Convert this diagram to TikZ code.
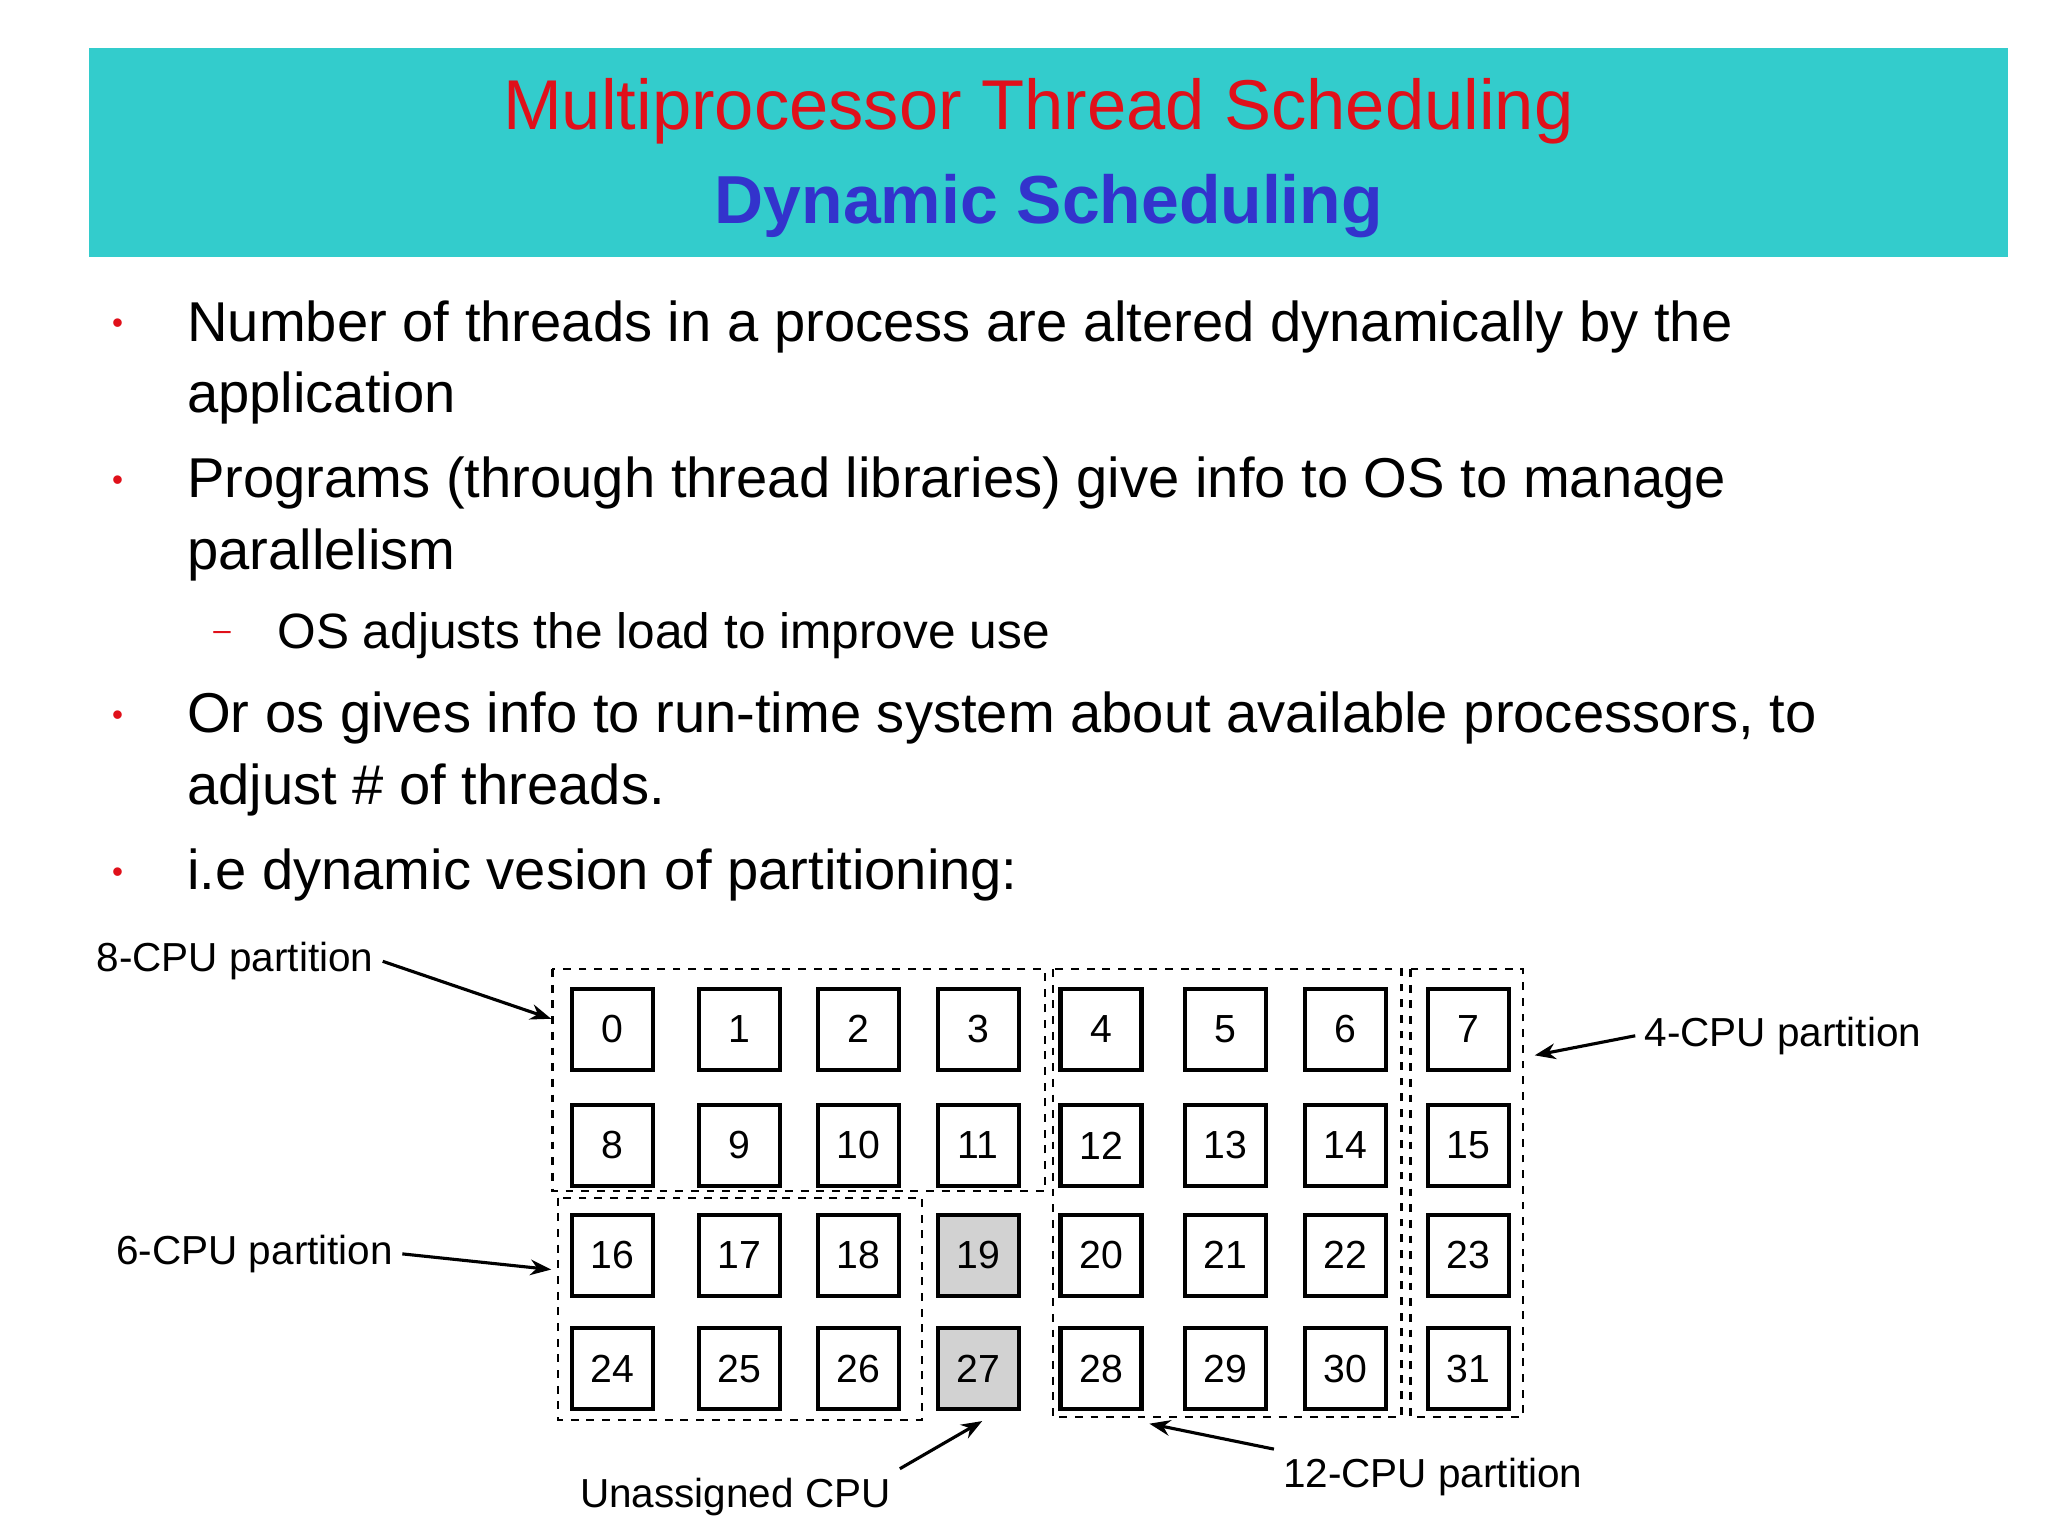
\documentclass[tikz,border=0pt]{standalone}
\usepackage{fontspec}
\setmainfont{Liberation Sans}
\usetikzlibrary{arrows.meta}
\definecolor{band}{HTML}{33CCCC}
\definecolor{ttlred}{HTML}{E0101A}
\definecolor{ttlblue}{HTML}{3333CC}
\begin{document}
\begin{tikzpicture}[x=0.5pt,y=-0.5pt,
  cell/.style={draw,line width=1.6pt,minimum size=31pt,inner sep=0pt,font=\fontsize{15}{15}\selectfont},
  part/.style={draw,dashed,line width=0.9pt},
  lbl/.style={font=\fontsize{15.5}{15}\selectfont},
  arr/.style={-{Stealth[length=8pt,width=6pt]},line width=1.2pt},
  body/.style={anchor=west,inner sep=0pt,font=\fontsize{21.5}{21}\selectfont},
  dot/.style={text=ttlred,font=\fontsize{12}{12}\selectfont}]
\useasboundingbox (0,0) rectangle (1568,1176);
\fill[white] (0,0) rectangle (1568,1176);
\fill[band] (68,37) rectangle (1537,197);
\node[text=ttlred,font=\fontsize{27}{27}\selectfont] (t1) at (795,85) {Multiprocessor Thread Scheduling};
\node[text=ttlblue,font=\bfseries\fontsize{26}{26}\selectfont] (t2) at (803,158) {Dynamic Scheduling};
\foreach \y/\n in {250/b1,370/b2,550/b3,670/b4}{\node[dot] (\n) at (90,\y) {•};}
\node[body] (l1) at (143,250) {Number of threads in a process are altered dynamically by the};
\node[body] (l2) at (143,305) {application};
\node[body] (l3) at (143,370) {Programs (through thread libraries) give info to OS to manage};
\node[body] (l4) at (143,425) {parallelism};
\node[dot] (d1) at (170,487) {–};
\node[body,font=\fontsize{19}{19}\selectfont] (l5) at (212,487) {OS adjusts the load to improve use};
\node[body] (l6) at (143,550) {Or os gives info to run-time system about available processors, to};
\node[body] (l7) at (143,605) {adjust \# of threads.};
\node[body] (l8) at (143,670) {i.e dynamic vesion of partitioning:};
% partitions
\draw[part] (423,742) rectangle (800,912);
\draw[part] (806,742) rectangle (1073,1085);
\draw[part] (1080,742) rectangle (1166,1085);
\draw[part] (427,917) rectangle (706,1087);
% cells
\foreach \r/\y in {0/788,1/877,2/961,3/1048}{
 \foreach \c/\x in {0/469,1/566,2/657,3/749,4/843,5/938,6/1030,7/1124}{
  \pgfmathtruncatemacro{\k}{\r*8+\c}
  \node[cell] (c\k) at (\x,\y) {\k};
 }}
\fill[gray!35] (c19.south west) rectangle (c19.north east);
\node[cell] at (c19) {19};
\fill[gray!35] (c27.south west) rectangle (c27.north east);
\node[cell] at (c27) {27};
% labels
\node[lbl] (p8) at (180,736) {8-CPU partition};
\node[lbl] (p4) at (1365,793) {4-CPU partition};
\node[lbl] (p6) at (195,960) {6-CPU partition};
\node[lbl] (pu) at (563,1146) {Unassigned CPU};
\node[lbl] (p12) at (1097,1131) {12-CPU partition};
\coordinate (e8) at (422,780);
\coordinate (e4) at (1175,808);
\coordinate (e6) at (422,972);
\coordinate (eu) at (752,1088);
\coordinate (e12) at (880,1090);
\draw[arr] (p8.east) -- (e8);
\draw[arr] (p4.west) -- (e4);
\draw[arr] (p6.east) -- (e6);
\draw[arr] (pu.north east) -- (eu);
\draw[arr] (p12.north west) -- (e12);
\end{tikzpicture}
\end{document}
